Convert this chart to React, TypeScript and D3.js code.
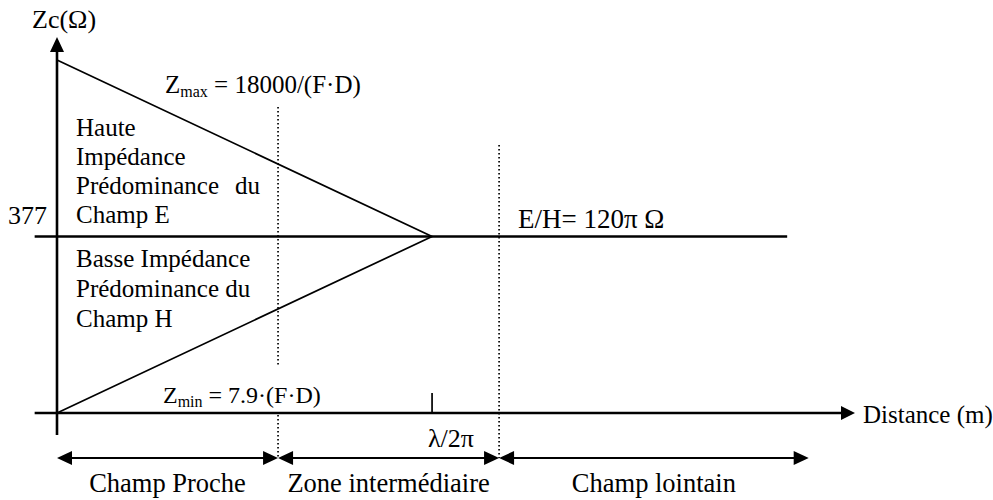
import React from 'react';
import * as d3 from 'd3';

// Distance units along the x axis (0 = vertical axis)
const zoneEdges = [0, 2.77, 5.54, 9.42];
const zoneLabels = ['Champ Proche', 'Zone intermédiaire', 'Champ lointain'];
const transitionDistance = 4.7; // λ/2π
const farLineEnd = 9.15;
const axisExtent = [-0.28, 9.98];

// Impedance levels (log-like index: 0 = Zmin, 1 = 377 Ω, 2 = Zmax)
const zLevels = [0, 1, 2];
const zAxisExtent = [-0.125, 2.13];
const highLabels = ['Haute', 'Impédance', 'Prédominance|du', 'Champ E'];
const lowLabels = ['Basse Impédance', 'Prédominance du', 'Champ H'];

const W = 993;
const H = 500;
const FONT = '"Liberation Serif", "Times New Roman", serif';

const x = d3.scaleLinear().domain([0, 10]).range([57, 855]);
const y = d3.scaleLinear().domain([0, 2]).range([413, 60]);

const tri = (tipX: number, tipY: number, dir: 'up' | 'right' | 'left', len = 14, hw = 7) => {
  if (dir === 'up') return `M${tipX},${tipY}L${tipX - hw},${tipY + len}L${tipX + hw},${tipY + len}Z`;
  if (dir === 'right') return `M${tipX},${tipY}L${tipX - len},${tipY - hw}L${tipX - len},${tipY + hw}Z`;
  return `M${tipX},${tipY}L${tipX + len},${tipY - hw}L${tipX + len},${tipY + hw}Z`;
};

const App: React.FC = () => {
  const [zMin, z377, zMax] = zLevels;
  const apex: [number, number] = [x(transitionDistance), y(z377)];
  const line = d3.line();
  const arrowY = 458;

  return (
    <svg width={W} height={H} style={{ position: 'absolute', left: 0, top: 0, background: '#fff' }}
      fontFamily={FONT} fill="#000">
      {/* triangle */}
      <path d={line([[x(0), y(zMax)], apex, [x(0), y(zMin)]]) || ''} fill="none" stroke="#000" strokeWidth={1.7} />

      {/* 377 line */}
      <line x1={x(axisExtent[0])} x2={x(farLineEnd)} y1={y(z377)} y2={y(z377)} stroke="#000" strokeWidth={2.6} />

      {/* dotted zone limits */}
      <line x1={x(zoneEdges[1])} x2={x(zoneEdges[1])} y1={107} y2={365} stroke="#000" strokeWidth={1.7} strokeDasharray="1.6 2.4" />
      <line x1={x(zoneEdges[1])} x2={x(zoneEdges[1])} y1={415} y2={arrowY} stroke="#000" strokeWidth={1.7} strokeDasharray="1.6 2.4" />
      <line x1={x(zoneEdges[2])} x2={x(zoneEdges[2])} y1={145} y2={arrowY} stroke="#000" strokeWidth={1.7} strokeDasharray="1.6 2.4" />

      {/* axes */}
      <line x1={x(0)} x2={x(0)} y1={y(zAxisExtent[0])} y2={y(zAxisExtent[1]) + 12} stroke="#000" strokeWidth={2.6} />
      <path d={tri(x(0), y(zAxisExtent[1]), 'up', 15, 7)} />
      <line x1={x(axisExtent[0])} x2={x(10) - 12} y1={y(zMin)} y2={y(zMin)} stroke="#000" strokeWidth={2.6} />
      <path d={tri(x(10), y(zMin), 'right', 14, 7)} />

      {/* λ/2π tick */}
      <line x1={x(transitionDistance)} x2={x(transitionDistance)} y1={y(zMin) - 20} y2={y(zMin)} stroke="#000" strokeWidth={1.7} />

      {/* zone arrows */}
      {zoneLabels.map((lab, i) => {
        const x0 = x(zoneEdges[i]);
        const x1 = x(zoneEdges[i + 1]);
        return (
          <g key={lab}>
            <line x1={x0 + 12} x2={x1 - 12} y1={arrowY} y2={arrowY} stroke="#000" strokeWidth={2.2} />
            <path d={tri(x0, arrowY, 'left', 15, 7)} />
            <path d={tri(x1, arrowY, 'right', 15, 7)} />
            <text x={(x0 + x1) / 2} y={492} fontSize={26.5} textAnchor="middle">{lab}</text>
          </g>
        );
      })}

      {/* labels */}
      <text x={32} y={28} fontSize={26}>Zc(Ω)</text>
      <text x={8} y={y(z377) - 13} fontSize={26}>377</text>
      <text x={165} y={93} fontSize={25}>Z<tspan fontSize={16} dy={4}>max</tspan><tspan dy={-4}> = 18000/(F·D)</tspan></text>
      <text x={163} y={403} fontSize={24}>Z<tspan fontSize={16} dy={4}>min</tspan><tspan dy={-4}> = 7.9·(F·D)</tspan></text>
      <text x={518} y={228} fontSize={27}>E/H= 120π Ω</text>
      <text x={428} y={447} fontSize={26}>λ/2π</text>
      <text x={863} y={423} fontSize={25}>Distance (m)</text>

      {highLabels.map((t, i) => {
        const parts = t.split('|');
        return (
          <text key={t} x={76} y={136 + i * 29} fontSize={25}>
            {parts[0]}
            {parts[1] && <tspan x={235}>{parts[1]}</tspan>}
          </text>
        );
      })}
      {lowLabels.map((t, i) => (
        <text key={t} x={76} y={267 + i * 30} fontSize={25}>{t}</text>
      ))}
    </svg>
  );
};

export default App;
